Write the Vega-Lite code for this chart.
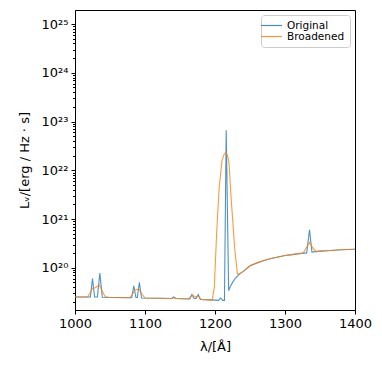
{
  "$schema": "https://vega.github.io/schema/vega-lite/v6.json",
  "width": 280,
  "height": 300,
  "autosize": "none",
  "padding": {"left": 75, "top": 10, "right": 27, "bottom": 57},
  "background": "white",
  "config": {
    "view": {"stroke": "black", "strokeWidth": 1},
    "font": "DejaVu Sans",
    "axis": {
      "grid": false,
      "domainColor": "black",
      "tickColor": "black",
      "labelColor": "black",
      "titleColor": "black",
      "labelFont": "DejaVu Sans",
      "titleFont": "DejaVu Sans",
      "labelFontSize": 13,
      "titleFontSize": 13,
      "titleFontWeight": "normal",
      "tickSize": 4,
      "labelPadding": 3
    },
    "legend": {
      "labelFont": "DejaVu Sans",
      "labelFontSize": 10.5,
      "labelColor": "black"
    }
  },
  "data": {
    "values": [
      {"l": 1000, "L": 2.51e19, "s": "Original"},
      {"l": 1020, "L": 2.51e19, "s": "Original"},
      {"l": 1022, "L": 2.51e19, "s": "Original"},
      {"l": 1025, "L": 6.03e19, "s": "Original"},
      {"l": 1028, "L": 2.51e19, "s": "Original"},
      {"l": 1032, "L": 2.51e19, "s": "Original"},
      {"l": 1035.5, "L": 7.76e19, "s": "Original"},
      {"l": 1039, "L": 2.48e19, "s": "Original"},
      {"l": 1060, "L": 2.45e19, "s": "Original"},
      {"l": 1081, "L": 2.43e19, "s": "Original"},
      {"l": 1084, "L": 4.27e19, "s": "Original"},
      {"l": 1087, "L": 2.45e19, "s": "Original"},
      {"l": 1089, "L": 2.45e19, "s": "Original"},
      {"l": 1092, "L": 5.01e19, "s": "Original"},
      {"l": 1095, "L": 2.40e19, "s": "Original"},
      {"l": 1120, "L": 2.37e19, "s": "Original"},
      {"l": 1138, "L": 2.34e19, "s": "Original"},
      {"l": 1141, "L": 2.51e19, "s": "Original"},
      {"l": 1144, "L": 2.34e19, "s": "Original"},
      {"l": 1164, "L": 2.29e19, "s": "Original"},
      {"l": 1167, "L": 2.82e19, "s": "Original"},
      {"l": 1170, "L": 2.34e19, "s": "Original"},
      {"l": 1173, "L": 2.34e19, "s": "Original"},
      {"l": 1176, "L": 2.82e19, "s": "Original"},
      {"l": 1179, "L": 2.24e19, "s": "Original"},
      {"l": 1195, "L": 2.19e19, "s": "Original"},
      {"l": 1205, "L": 2.14e19, "s": "Original"},
      {"l": 1208, "L": 2.40e19, "s": "Original"},
      {"l": 1211, "L": 2.14e19, "s": "Original"},
      {"l": 1213.5, "L": 2.14e19, "s": "Original"},
      {"l": 1216, "L": 6.6e22, "s": "Original"},
      {"l": 1219.5, "L": 3.39e19, "s": "Original"},
      {"l": 1222, "L": 4.17e19, "s": "Original"},
      {"l": 1226, "L": 5.25e19, "s": "Original"},
      {"l": 1230, "L": 6.31e19, "s": "Original"},
      {"l": 1235, "L": 7.41e19, "s": "Original"},
      {"l": 1240, "L": 8.32e19, "s": "Original"},
      {"l": 1250, "L": 1.10e20, "s": "Original"},
      {"l": 1260, "L": 1.26e20, "s": "Original"},
      {"l": 1270, "L": 1.41e20, "s": "Original"},
      {"l": 1280, "L": 1.55e20, "s": "Original"},
      {"l": 1290, "L": 1.66e20, "s": "Original"},
      {"l": 1300, "L": 1.78e20, "s": "Original"},
      {"l": 1310, "L": 1.86e20, "s": "Original"},
      {"l": 1320, "L": 1.95e20, "s": "Original"},
      {"l": 1331, "L": 2.02e20, "s": "Original"},
      {"l": 1335, "L": 6.03e20, "s": "Original"},
      {"l": 1338.5, "L": 2.09e20, "s": "Original"},
      {"l": 1350, "L": 2.19e20, "s": "Original"},
      {"l": 1360, "L": 2.24e20, "s": "Original"},
      {"l": 1370, "L": 2.29e20, "s": "Original"},
      {"l": 1380, "L": 2.34e20, "s": "Original"},
      {"l": 1390, "L": 2.37e20, "s": "Original"},
      {"l": 1400, "L": 2.40e20, "s": "Original"},
      {"l": 1000, "L": 2.51e19, "s": "Broadened"},
      {"l": 1018, "L": 2.51e19, "s": "Broadened"},
      {"l": 1022, "L": 3.16e19, "s": "Broadened"},
      {"l": 1025, "L": 3.80e19, "s": "Broadened"},
      {"l": 1029, "L": 3.89e19, "s": "Broadened"},
      {"l": 1032, "L": 4.17e19, "s": "Broadened"},
      {"l": 1035, "L": 4.42e19, "s": "Broadened"},
      {"l": 1039, "L": 3.31e19, "s": "Broadened"},
      {"l": 1043, "L": 2.57e19, "s": "Broadened"},
      {"l": 1050, "L": 2.45e19, "s": "Broadened"},
      {"l": 1078, "L": 2.43e19, "s": "Broadened"},
      {"l": 1082, "L": 2.82e19, "s": "Broadened"},
      {"l": 1085, "L": 3.47e19, "s": "Broadened"},
      {"l": 1088.5, "L": 3.63e19, "s": "Broadened"},
      {"l": 1092, "L": 3.55e19, "s": "Broadened"},
      {"l": 1096, "L": 2.82e19, "s": "Broadened"},
      {"l": 1100, "L": 2.40e19, "s": "Broadened"},
      {"l": 1120, "L": 2.37e19, "s": "Broadened"},
      {"l": 1137, "L": 2.34e19, "s": "Broadened"},
      {"l": 1141, "L": 2.43e19, "s": "Broadened"},
      {"l": 1145, "L": 2.34e19, "s": "Broadened"},
      {"l": 1162, "L": 2.29e19, "s": "Broadened"},
      {"l": 1166, "L": 2.63e19, "s": "Broadened"},
      {"l": 1169, "L": 2.69e19, "s": "Broadened"},
      {"l": 1172, "L": 2.51e19, "s": "Broadened"},
      {"l": 1176, "L": 2.63e19, "s": "Broadened"},
      {"l": 1180, "L": 2.24e19, "s": "Broadened"},
      {"l": 1190, "L": 2.19e19, "s": "Broadened"},
      {"l": 1196, "L": 2.14e19, "s": "Broadened"},
      {"l": 1199, "L": 3.98e19, "s": "Broadened"},
      {"l": 1202.5, "L": 5.75e20, "s": "Broadened"},
      {"l": 1206, "L": 4.47e21, "s": "Broadened"},
      {"l": 1210, "L": 1.58e22, "s": "Broadened"},
      {"l": 1213, "L": 2.14e22, "s": "Broadened"},
      {"l": 1215.5, "L": 2.34e22, "s": "Broadened"},
      {"l": 1218, "L": 2.0e22, "s": "Broadened"},
      {"l": 1220, "L": 1.41e22, "s": "Broadened"},
      {"l": 1223, "L": 2.75e21, "s": "Broadened"},
      {"l": 1228, "L": 2.63e20, "s": "Broadened"},
      {"l": 1232, "L": 7.4e19, "s": "Broadened"},
      {"l": 1236, "L": 7.7e19, "s": "Broadened"},
      {"l": 1240, "L": 8.32e19, "s": "Broadened"},
      {"l": 1250, "L": 1.10e20, "s": "Broadened"},
      {"l": 1260, "L": 1.26e20, "s": "Broadened"},
      {"l": 1270, "L": 1.41e20, "s": "Broadened"},
      {"l": 1280, "L": 1.55e20, "s": "Broadened"},
      {"l": 1290, "L": 1.66e20, "s": "Broadened"},
      {"l": 1300, "L": 1.78e20, "s": "Broadened"},
      {"l": 1310, "L": 1.86e20, "s": "Broadened"},
      {"l": 1320, "L": 1.95e20, "s": "Broadened"},
      {"l": 1326, "L": 2.0e20, "s": "Broadened"},
      {"l": 1330, "L": 2.51e20, "s": "Broadened"},
      {"l": 1335, "L": 3.31e20, "s": "Broadened"},
      {"l": 1340, "L": 2.51e20, "s": "Broadened"},
      {"l": 1345, "L": 2.14e20, "s": "Broadened"},
      {"l": 1350, "L": 2.19e20, "s": "Broadened"},
      {"l": 1360, "L": 2.24e20, "s": "Broadened"},
      {"l": 1370, "L": 2.29e20, "s": "Broadened"},
      {"l": 1380, "L": 2.34e20, "s": "Broadened"},
      {"l": 1390, "L": 2.37e20, "s": "Broadened"},
      {"l": 1400, "L": 2.40e20, "s": "Broadened"}
    ]
  },
  "mark": {"type": "line", "strokeWidth": 1.1, "strokeOpacity": 0.8},
  "encoding": {
    "x": {
      "field": "l",
      "type": "quantitative",
      "scale": {"domain": [1000, 1400], "nice": false, "zero": false},
      "axis": {"values": [1000, 1100, 1200, 1300, 1400], "format": "d", "title": "λ/[Å]", "titlePadding": 10, "labelFlush": false}
    },
    "y": {
      "field": "L",
      "type": "quantitative",
      "scale": {"type": "log", "domain": [1.36e19, 1.94e25], "nice": false},
      "axis": {
        "values": [2e19, 3e19, 4e19, 5e19, 6e19, 7e19, 8e19, 9e19, 1e20, 2e20, 3e20, 4e20, 5e20, 6e20, 7e20, 8e20, 9e20, 1e21, 2e21, 3e21, 4e21, 5e21, 6e21, 7e21, 8e21, 9e21, 1e22, 2e22, 3e22, 4e22, 5e22, 6e22, 7e22, 8e22, 9e22, 1e23, 2e23, 3e23, 4e23, 5e23, 6e23, 7e23, 8e23, 9e23, 1e24, 2e24, 3e24, 4e24, 5e24, 6e24, 7e24, 8e24, 9e24, 1e25],
        "labelExpr": "abs(log(datum.value)/LN10 - round(log(datum.value)/LN10)) < 0.001 ? '10' + ['²⁰','²¹','²²','²³','²⁴','²⁵'][round(log(datum.value)/LN10) - 20] : ''",
        "tickSize": {"condition": {"test": "abs(log(datum.value)/LN10 - round(log(datum.value)/LN10)) < 0.001", "value": 4}, "value": 2.5},
        "labelOverlap": false,
        "title": "Lᵥ/[erg / Hz · s]",
        "titlePadding": 10
      }
    },
    "color": {
      "field": "s",
      "type": "nominal",
      "sort": null,
      "scale": {"domain": ["Original", "Broadened"], "range": ["#1f77b4", "#ff7f0e"]},
      "legend": {
        "title": null,
        "orient": "top-right",
        "offset": 5,
        "symbolType": "M-2.2,0H2.2",
        "symbolSize": 90,
        "symbolStrokeWidth": 1.2,
        "symbolOpacity": 0.85,
        "strokeColor": "#cccccc",
        "fillColor": "white",
        "padding": 5,
        "cornerRadius": 3,
        "rowPadding": 0,
        "labelOffset": 10
      }
    }
  }
}
